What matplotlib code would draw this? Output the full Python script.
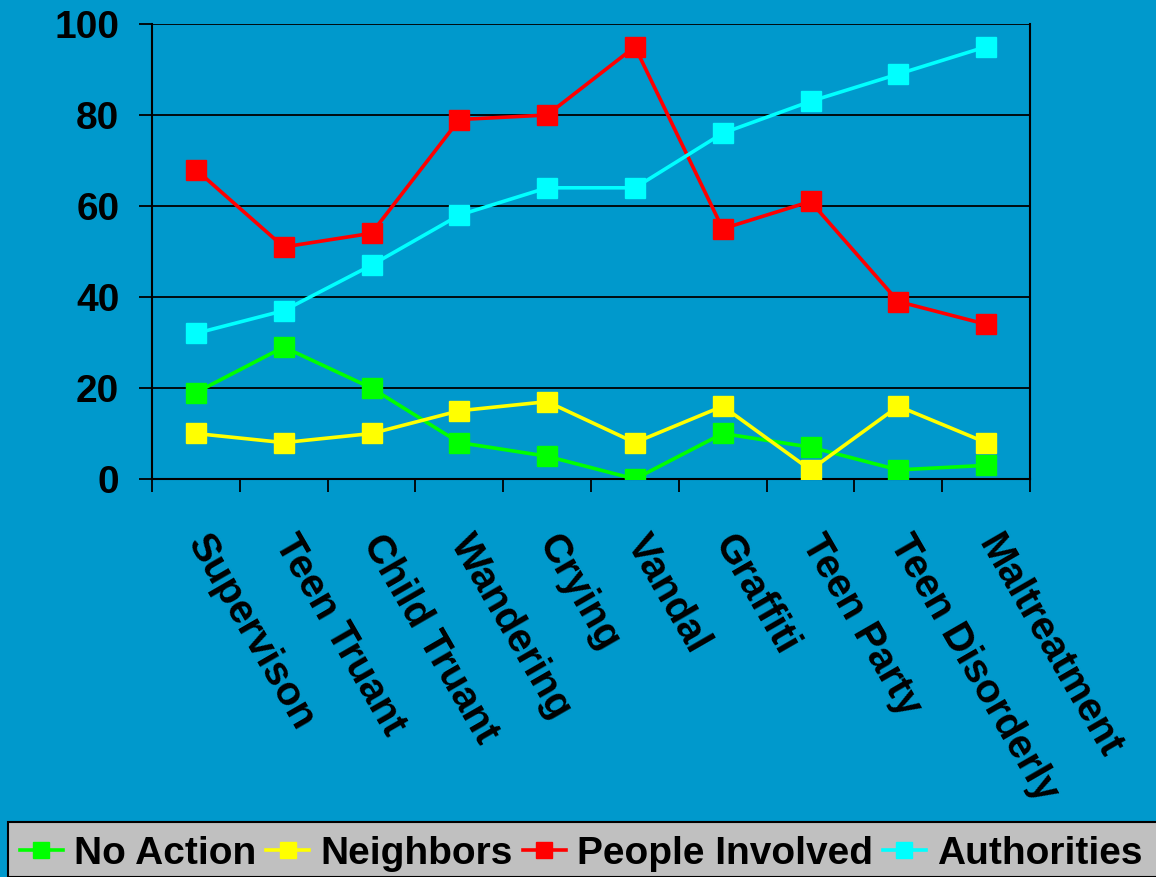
import matplotlib
matplotlib.use("Agg")
import matplotlib.pyplot as plt
import matplotlib.transforms as mtransforms
from matplotlib.patches import Rectangle
import numpy as np

plt.rcParams['font.family'] = ['Liberation Sans', 'DejaVu Sans']
plt.rcParams['font.weight'] = 'bold'

categories = ["Supervison", "Teen Truant", "Child Truant", "Wandering", "Crying",
              "Vandal", "Graffiti", "Teen Party", "Teen Disorderly", "Maltreatment"]
no_action = [19, 29, 20, 8, 5, 0, 10, 7, 2, 3]
neighbors = [10, 8, 10, 15, 17, 8, 16, 2, 16, 8]
people_involved = [68, 51, 54, 79, 80, 95, 55, 61, 39, 34]
authorities = [32, 37, 47, 58, 64, 64, 76, 83, 89, 95]

series = [("No Action", no_action, "#00FF00"),
          ("Neighbors", neighbors, "#FFFF00"),
          ("People Involved", people_involved, "#FF0000"),
          ("Authorities", authorities, "#00FFFF")]

bg = "#0099CC"
fig = plt.figure(figsize=(11.56, 8.77), dpi=100, facecolor=bg)
ax = fig.add_axes([152/1156, 1 - 479/877, (1030 - 152)/1156, (479 - 24)/877])
ax.set_facecolor(bg)

x = np.arange(len(categories))
handles = []
for name, vals, col in series:
    h, = ax.plot(x, vals, color=col, lw=2.6, marker="s", ms=15, mec=col, label=name, zorder=3)
    handles.append(h)

ax.set_xlim(-0.5, len(categories) - 0.5)
ax.set_ylim(0, 100)
ax.set_yticks([0, 20, 40, 60, 80, 100])
ax.yaxis.grid(True, color="black", lw=1.3, zorder=1)
ax.set_axisbelow(True)
ax.tick_params(axis="y", length=9.5, width=1.3, labelsize=28, pad=14, colors="black")

# category labels, boundaries as minor ticks
ax.set_xticks(x)
ax.set_xticklabels(categories, rotation=-60, ha="left", va="top",
                   rotation_mode="anchor", fontsize=29)
ax.set_xticks(np.arange(-0.5, len(categories)), minor=True)
ax.tick_params(axis="x", which="major", length=0, pad=0)
ax.tick_params(axis="x", which="minor", length=9, width=1.3)
offset = mtransforms.ScaledTranslation(12/72, -35/72, fig.dpi_scale_trans)
for lbl in ax.get_xticklabels():
    lbl.set_transform(lbl.get_transform() + offset)

for side in ["left", "bottom", "right"]:
    ax.spines[side].set_linewidth(1.5)
ax.spines["top"].set_visible(False)

# legend box
fig.patches.append(Rectangle((8/1156, 0), 1.0, 55/877, transform=fig.transFigure,
                             facecolor="#C0C0C0", edgecolor="black", lw=1.5))
fig.legend(handles=handles, loc="center", bbox_to_anchor=(0.503, 23/877), ncol=4,
           frameon=False, fontsize=28, handlelength=1.1, handletextpad=0.3,
           columnspacing=0.25, borderaxespad=0, borderpad=0, markerscale=0.75)

fig.savefig("out.png", dpi=100, facecolor=bg)
